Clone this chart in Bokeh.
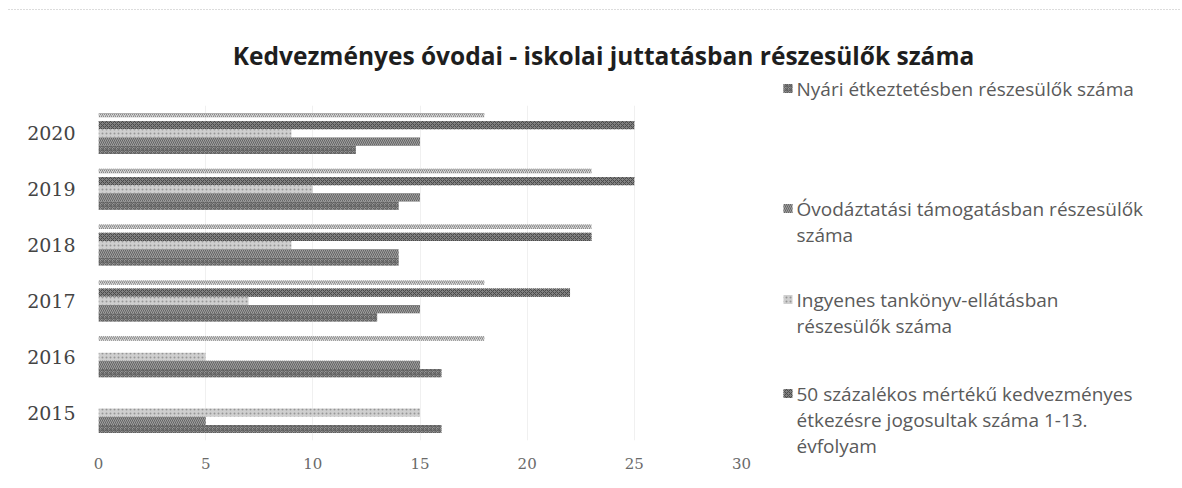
from bokeh.plotting import figure
from bokeh.models import ColumnDataSource, FactorRange, Range1d, FixedTicker
from bokeh.transform import dodge
from bokeh.layouts import column, row
from bokeh.embed import file_html
from bokeh.resources import INLINE
from bokeh.core.properties import value

# ---------------- data ----------------
years = ["2015", "2016", "2017", "2018", "2019", "2020"]
top_series = [0, 18, 18, 23, 23, 18]          # top (thin, light) bar of each group
kedvezmenyes_50 = [0, 0, 22, 23, 25, 25]      # 50 százalékos mértékű kedvezményes étkezés
tankonyv = [15, 5, 7, 9, 10, 9]               # Ingyenes tankönyv-ellátás
ovodaztatasi = [5, 15, 15, 14, 15, 15]        # Óvodáztatási támogatás
nyari = [16, 16, 13, 14, 14, 12]              # Nyári étkeztetés
x_ticks = [0, 5, 10, 15, 20, 25, 30]

title_text = "Kedvezményes óvodai - iskolai juttatásban részesülők száma"
legend_labels = [
    ["Nyári étkeztetésben részesülők száma"],
    ["Óvodáztatási támogatásban részesülők", "száma"],
    ["Ingyenes tankönyv-ellátásban", "részesülők száma"],
    ["50 százalékos mértékű kedvezményes", "étkezésre jogosultak száma 1-13.", "évfolyam"],
]

# ---------------- styles ----------------
STY = {
    "top": dict(fill_color="#d4d4d4", hatch_pattern="right_diagonal_line", hatch_color="#888888",
                hatch_scale=4, hatch_weight=1),
    "k50": dict(fill_color="#808080", hatch_pattern="diagonal_cross", hatch_color="#4a4a4a",
                hatch_scale=4, hatch_weight=1),
    "tank": dict(fill_color="#cfcfcf", hatch_pattern="dot", hatch_color="#969696",
                 hatch_scale=4, hatch_weight=1),
    "ovod": dict(fill_color="#a0a0a0", hatch_pattern="left_diagonal_line", hatch_color="#646464",
                 hatch_scale=4, hatch_weight=1),
    "nyari": dict(fill_color="#969696", hatch_pattern="criss_cross", hatch_color="#5e5e5e",
                  hatch_scale=4, hatch_weight=1),
}
SLOT = 0.147
W, H = 1180, 486
TOP_H = 75
LEFT_W = 760

src = ColumnDataSource(dict(years=years, top=top_series, k50=kedvezmenyes_50,
                            tank=tankonyv, ovod=ovodaztatasi, nyari=nyari))

# ---------------- title strip (page coordinates) ----------------
tf = figure(width=W, height=TOP_H, x_range=Range1d(0, W), y_range=Range1d(TOP_H, 0),
            x_axis_location=None, y_axis_location=None, min_border=0,
            toolbar_location=None, output_backend="svg")
tf.frame_align = False
tf.grid.visible = False
tf.outline_line_color = None
tf.segment(x0=[8], y0=[9], x1=[W], y1=[9], line_color="#b8b8b8", line_dash="1 2", line_width=1)
tf.text(x=[603], y=[55], text=[title_text], text_align="center", text_baseline="middle",
        text_font=value("Open Sans"), text_font_style="bold", text_font_size="24.5px",
        text_color="#1e1e1e")

# ---------------- bar chart ----------------
p = figure(width=LEFT_W, height=H - TOP_H, y_range=FactorRange(*years), x_range=Range1d(0, 30),
           min_border_left=98, min_border_right=LEFT_W - 741, min_border_top=105 - TOP_H,
           min_border_bottom=H - 440, toolbar_location=None, output_backend="svg")
p.frame_align = False

thin_h = 0.08
p.hbar(y=dodge("years", 2 * SLOT + (SLOT - thin_h) / 2, range=p.y_range), left=0, right="top",
       height=thin_h, source=src, line_color=None, **STY["top"])
for off, col in [(SLOT, "k50"), (0, "tank"), (-SLOT, "ovod"), (-2 * SLOT, "nyari")]:
    p.hbar(y=dodge("years", off, range=p.y_range), left=0, right=col, height=SLOT,
           source=src, line_color=None, **STY[col])

p.xaxis.ticker = FixedTicker(ticks=x_ticks)
for ax in (p.xaxis[0], p.yaxis[0]):
    ax.axis_line_color = None
    ax.major_tick_line_color = None
    ax.minor_tick_line_color = None
    ax.major_tick_out = 0
    ax.major_tick_in = 0
p.xaxis.major_label_text_font = "DejaVu Serif"
p.xaxis.major_label_text_font_size = "15px"
p.xaxis.major_label_text_color = "#6a6a6a"
p.xaxis.major_label_standoff = 17
p.yaxis.major_label_text_font = "DejaVu Serif"
p.yaxis.major_label_text_font_size = "19px"
p.yaxis.major_label_text_color = "#444444"
p.yaxis.major_label_standoff = 23
p.ygrid.grid_line_color = None
p.xgrid.grid_line_color = "#f0f0f0"
p.outline_line_color = None

# ---------------- legend (page coordinates) ----------------
lf = figure(width=W - LEFT_W, height=H - TOP_H, x_range=Range1d(LEFT_W, W),
            y_range=Range1d(H, TOP_H), x_axis_location=None, y_axis_location=None,
            min_border=0, toolbar_location=None, output_backend="svg")
lf.frame_align = False
lf.grid.visible = False
lf.outline_line_color = None

legend_keys = ["nyari", "ovod", "tank", "k50"]
line_pos = [[88], [208, 234], [299, 325], [393, 419, 445]]
for key, lines, ys in zip(legend_keys, legend_labels, line_pos):
    lf.rect(x=[787.5], y=[ys[0]], width=9, height=9, line_color=None, **STY[key])
    lf.text(x=[796] * len(lines), y=ys, text=lines, text_align="left", text_baseline="middle",
            text_font=value("Open Sans"), text_font_size="19px", text_color="#5a5a5a")

layout = column(tf, row(p, lf))
open("out.html", "w").write(file_html(layout, INLINE))
